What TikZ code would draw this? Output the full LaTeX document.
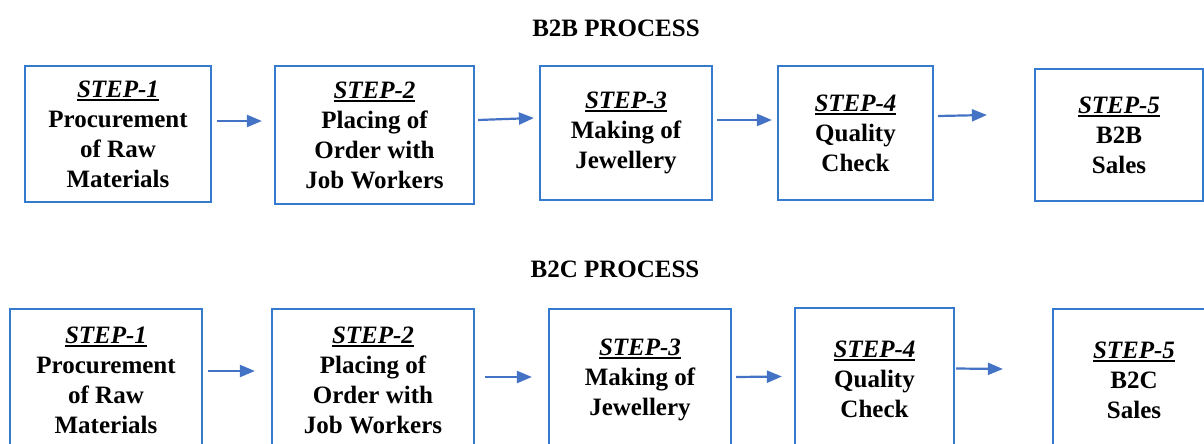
\documentclass[tikz,border=0pt]{standalone}
\usepackage{fontspec}
\setmainfont{Liberation Serif}
\usetikzlibrary{arrows.meta}
\definecolor{boxblue}{RGB}{52,122,206}
\definecolor{arrblue}{RGB}{68,114,196}
\newcommand{\myul}[1]{\setbox0\hbox{#1}\rlap{\rule[-3.5pt]{\wd0}{1.8pt}}\box0}
\newcommand{\stp}[1]{\myul{\textbf{\textit{STEP-#1}}}}
\tikzset{
  stepbox/.style={draw=boxblue, line width=2.2pt, inner sep=0pt, align=center,
    font=\fontsize{25}{30}\selectfont\bfseries},
  ttl/.style={font=\fontsize{25}{30}\selectfont\bfseries, inner sep=0pt},
  arr/.style={draw=arrblue, line width=2.2pt, -{Triangle[length=15pt,width=12pt]}}
}
\begin{document}
\begin{tikzpicture}[x=1pt,y=-1pt]
\clip (0,0) rectangle (1204,444);
\useasboundingbox (0,0) rectangle (1204,444);
\fill[white] (0,0) rectangle (1204,444);
% titles
\node[ttl] (t1) at (616,28) {B2B PROCESS};
\node[ttl] (t2) at (615,269) {B2C PROCESS};
% top row
\node[stepbox, minimum width=186pt, minimum height=136pt] (a1) at (118,134) {\stp{1}\\Procurement\\of Raw\\Materials};
\node[stepbox, minimum width=199pt, minimum height=138pt] (a2) at (374.5,135) {\stp{2}\\Placing of\\Order with\\Job Workers};
\node[stepbox, minimum width=172pt, minimum height=134pt] (a3) at (626,133) {\stp{3}\\Making of\\Jewellery};
\node[stepbox, minimum width=155pt, minimum height=134pt] (a4) at (855.5,133) {\stp{4}\\Quality\\Check};
\node[stepbox, minimum width=168pt, minimum height=132pt] (a5) at (1119,135) {\stp{5}\\B2B\\Sales};
\draw[arr] ([shift={(5,-13)}]a1.east) -- ([shift={(-12,-14)}]a2.west);
\draw[arr] ([shift={(3,-15)}]a2.east) -- ([shift={(-5,-15)}]a3.west);
\draw[arr] ([shift={(4,-13)}]a3.east) -- ([shift={(-5,-13)}]a4.west);
\draw[arr] ([shift={(4,-17)}]a4.east) -- ([shift={(-47,-20)}]a5.west);
% bottom row
\node[stepbox, minimum width=192pt, minimum height=142pt] (c1) at (106,380) {\stp{1}\\Procurement\\of Raw\\Materials};
\node[stepbox, minimum width=202pt, minimum height=142pt] (c2) at (373,380) {\stp{2}\\Placing of\\Order with\\Job Workers};
\node[stepbox, minimum width=182pt, minimum height=142pt] (c3) at (640,380) {\stp{3}\\Making of\\Jewellery};
\node[stepbox, minimum width=159pt, minimum height=143pt] (c4) at (874.5,379.5) {\stp{4}\\Quality\\Check};
\node[stepbox, minimum width=162pt, minimum height=142pt] (c5) at (1134,380) {\stp{5}\\B2C\\Sales};
\draw[arr] ([shift={(5,-9)}]c1.east) -- ([shift={(-16,-9)}]c2.west);
\draw[arr] ([shift={(10,-3)}]c2.east) -- ([shift={(-16,-3)}]c3.west);
\draw[arr] ([shift={(4,-3)}]c3.east) -- ([shift={(-12,-3)}]c4.west);
\draw[arr] ([shift={(1,-11)}]c4.east) -- ([shift={(-49,-11)}]c5.west);
\end{tikzpicture}
\end{document}
